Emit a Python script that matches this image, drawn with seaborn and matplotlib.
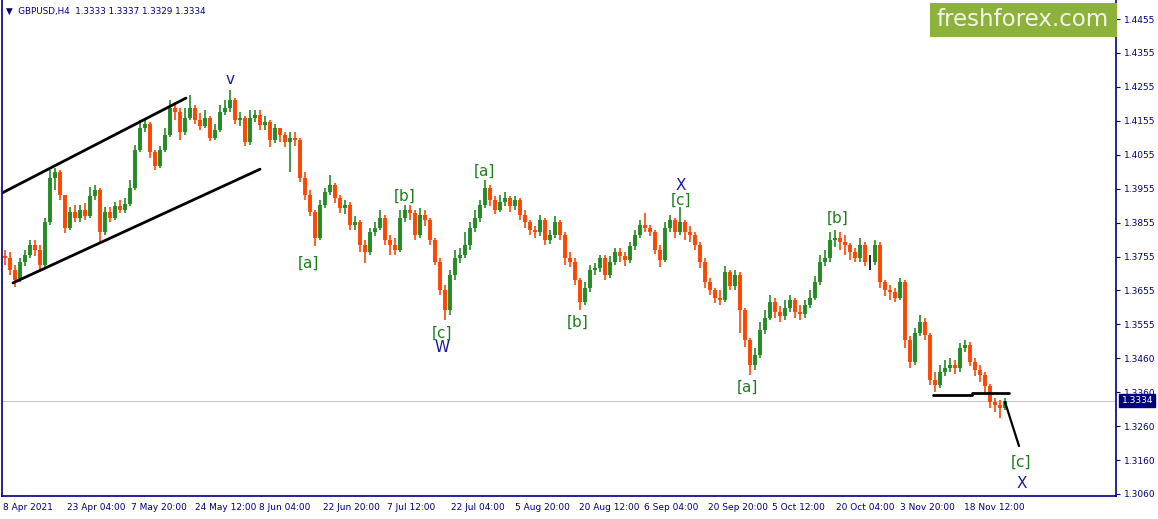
import numpy as np
import matplotlib
matplotlib.use('Agg')
import matplotlib.pyplot as plt
import seaborn as sns

# GBPUSD H4 (one bar per ~5 px of the original)
first_open = 1.3760
closes = [
    1.3753, 1.3718, 1.3688, 1.3741, 1.3762, 1.3791, 1.3777, 1.3733, 1.3859, 1.3988,
    1.4006, 1.3938, 1.3841, 1.3888, 1.3871, 1.3894, 1.3876, 1.3935, 1.3953, 1.3829,
    1.3888, 1.3871, 1.3906, 1.3894, 1.3912, 1.3959, 1.4070, 1.4135, 1.4147, 1.4064,
    1.4023, 1.4070, 1.4114, 1.4194, 1.4182, 1.4123, 1.4164, 1.4194, 1.4158, 1.4141,
    1.4164, 1.4105, 1.4129, 1.4182, 1.4194, 1.4217, 1.4158, 1.4164, 1.4094, 1.4164,
    1.4173, 1.4144, 1.4153, 1.4100, 1.4135, 1.4114, 1.4094, 1.4105, 1.4100, 1.3988,
    1.3938, 1.3888, 1.3812, 1.3909, 1.3947, 1.3967, 1.3929, 1.3900, 1.3909, 1.3850,
    1.3859, 1.3791, 1.3771, 1.3829, 1.3841, 1.3871, 1.3806, 1.3791, 1.3777, 1.3871,
    1.3894, 1.3885, 1.3821, 1.3879, 1.3865, 1.3806, 1.3741, 1.3659, 1.3600, 1.3703,
    1.3753, 1.3762, 1.3791, 1.3841, 1.3871, 1.3909, 1.3959, 1.3923, 1.3894, 1.3918,
    1.3929, 1.3906, 1.3923, 1.3879, 1.3859, 1.3835, 1.3829, 1.3865, 1.3806, 1.3821,
    1.3859, 1.3821, 1.3753, 1.3741, 1.3688, 1.3624, 1.3665, 1.3718, 1.3724, 1.3753,
    1.3703, 1.3741, 1.3771, 1.3759, 1.3747, 1.3788, 1.3821, 1.3850, 1.3841, 1.3829,
    1.3777, 1.3747, 1.3841, 1.3865, 1.3829, 1.3859, 1.3829, 1.3821, 1.3791, 1.3741,
    1.3683, 1.3659, 1.3636, 1.3630, 1.3712, 1.3671, 1.3703, 1.3600, 1.3512, 1.3439,
    1.3468, 1.3542, 1.3577, 1.3624, 1.3594, 1.3583, 1.3606, 1.3630, 1.3594, 1.3589,
    1.3615, 1.3636, 1.3683, 1.3741, 1.3753, 1.3806, 1.3812, 1.3800, 1.3791, 1.3771,
    1.3753, 1.3791, 1.3741, 1.3741, 1.3791, 1.3683, 1.3659, 1.3653, 1.3636, 1.3683,
    1.3512, 1.3448, 1.3533, 1.3565, 1.3527, 1.3395, 1.3380, 1.3418, 1.3430, 1.3439,
    1.3430, 1.3489, 1.3498, 1.3448, 1.3424, 1.3409, 1.3377, 1.3330, 1.3321, 1.3313,
    1.3334,
]
highs = [
    1.3777, 1.3771, 1.3733, 1.3753, 1.3777, 1.3806, 1.3806, 1.3791, 1.3871, 1.4012,
    1.4017, 1.4012, 1.3938, 1.3903, 1.3909, 1.3909, 1.3915, 1.3962, 1.3967, 1.3959,
    1.3903, 1.3903, 1.3918, 1.3923, 1.3929, 1.3982, 1.4085, 1.4158, 1.4164, 1.4153,
    1.4070, 1.4082, 1.4135, 1.4217, 1.4211, 1.4194, 1.4194, 1.4232, 1.4202, 1.4179,
    1.4188, 1.4170, 1.4147, 1.4202, 1.4217, 1.4246, 1.4223, 1.4182, 1.4170, 1.4188,
    1.4188, 1.4188, 1.4170, 1.4158, 1.4147, 1.4135, 1.4123, 1.4123, 1.4123, 1.4105,
    1.4006, 1.3953, 1.3894, 1.3923, 1.3959, 1.3997, 1.3973, 1.3938, 1.3923, 1.3918,
    1.3876, 1.3865, 1.3806, 1.3841, 1.3859, 1.3894, 1.3879, 1.3821, 1.3812, 1.3894,
    1.3909, 1.3909, 1.3894, 1.3900, 1.3894, 1.3871, 1.3812, 1.3753, 1.3674, 1.3718,
    1.3777, 1.3782, 1.3829, 1.3859, 1.3894, 1.3923, 1.3982, 1.3967, 1.3935, 1.3938,
    1.3947, 1.3935, 1.3935, 1.3929, 1.3894, 1.3865, 1.3847, 1.3879, 1.3871, 1.3835,
    1.3876, 1.3865, 1.3829, 1.3771, 1.3753, 1.3694, 1.3683, 1.3733, 1.3738, 1.3762,
    1.3762, 1.3759, 1.3782, 1.3782, 1.3771, 1.3800, 1.3835, 1.3865, 1.3885, 1.3850,
    1.3835, 1.3791, 1.3859, 1.3879, 1.3871, 1.3903, 1.3865, 1.3847, 1.3829, 1.3800,
    1.3753, 1.3694, 1.3665, 1.3659, 1.3730, 1.3718, 1.3718, 1.3712, 1.3606, 1.3518,
    1.3489, 1.3565, 1.3600, 1.3644, 1.3636, 1.3612, 1.3630, 1.3644, 1.3636, 1.3615,
    1.3630, 1.3659, 1.3700, 1.3762, 1.3777, 1.3829, 1.3835, 1.3829, 1.3821, 1.3797,
    1.3782, 1.3812, 1.3800, 1.3762, 1.3806, 1.3800, 1.3688, 1.3674, 1.3665, 1.3694,
    1.3688, 1.3524, 1.3547, 1.3586, 1.3577, 1.3533, 1.3418, 1.3439, 1.3454, 1.3459,
    1.3454, 1.3503, 1.3512, 1.3506, 1.3459, 1.3439, 1.3418, 1.3383, 1.3342, 1.3336,
    1.3342,
]
lows = [
    1.3733, 1.3703, 1.3668, 1.3683, 1.3730, 1.3753, 1.3759, 1.3712, 1.3724, 1.3850,
    1.3953, 1.3923, 1.3826, 1.3835, 1.3859, 1.3859, 1.3865, 1.3871, 1.3923, 1.3800,
    1.3821, 1.3859, 1.3865, 1.3885, 1.3885, 1.3906, 1.3953, 1.4064, 1.4123, 1.4047,
    1.4012, 1.4017, 1.4064, 1.4108, 1.4158, 1.4100, 1.4114, 1.4158, 1.4147, 1.4129,
    1.4135, 1.4097, 1.4100, 1.4123, 1.4173, 1.4182, 1.4147, 1.4141, 1.4082, 1.4085,
    1.4153, 1.4129, 1.4129, 1.4079, 1.4091, 1.4094, 1.4079, 1.4006, 1.4082, 1.3976,
    1.3923, 1.3876, 1.3788, 1.3806, 1.3900, 1.3938, 1.3915, 1.3885, 1.3882, 1.3835,
    1.3835, 1.3771, 1.3738, 1.3762, 1.3818, 1.3835, 1.3791, 1.3762, 1.3762, 1.3771,
    1.3859, 1.3865, 1.3806, 1.3812, 1.3847, 1.3791, 1.3733, 1.3644, 1.3571, 1.3586,
    1.3688, 1.3738, 1.3753, 1.3777, 1.3829, 1.3859, 1.3900, 1.3906, 1.3882, 1.3888,
    1.3906, 1.3888, 1.3894, 1.3865, 1.3841, 1.3821, 1.3812, 1.3818, 1.3791, 1.3794,
    1.3812, 1.3806, 1.3733, 1.3727, 1.3674, 1.3600, 1.3615, 1.3653, 1.3703, 1.3712,
    1.3688, 1.3694, 1.3733, 1.3741, 1.3730, 1.3738, 1.3777, 1.3812, 1.3829, 1.3818,
    1.3765, 1.3727, 1.3741, 1.3829, 1.3812, 1.3821, 1.3806, 1.3800, 1.3777, 1.3724,
    1.3665, 1.3644, 1.3621, 1.3615, 1.3624, 1.3659, 1.3659, 1.3533, 1.3492, 1.3409,
    1.3424, 1.3459, 1.3530, 1.3571, 1.3577, 1.3565, 1.3571, 1.3594, 1.3577, 1.3571,
    1.3577, 1.3606, 1.3630, 1.3674, 1.3730, 1.3741, 1.3785, 1.3777, 1.3762, 1.3747,
    1.3741, 1.3741, 1.3730, 1.3718, 1.3733, 1.3665, 1.3641, 1.3630, 1.3624, 1.3630,
    1.3489, 1.3430, 1.3439, 1.3524, 1.3512, 1.3380, 1.3360, 1.3371, 1.3406, 1.3418,
    1.3412, 1.3418, 1.3477, 1.3436, 1.3406, 1.3389, 1.3360, 1.3313, 1.3301, 1.3283,
    1.3307,
]

y_labels = ['1.4455', '1.4355', '1.4255', '1.4155', '1.4055', '1.3955', '1.3855', '1.3755',
            '1.3655', '1.3555', '1.3460', '1.3360', '1.3260', '1.3160', '1.3060']
x_labels = ['8 Apr 2021', '23 Apr 04:00', '7 May 20:00', '24 May 12:00', '8 Jun 04:00',
            '22 Jun 20:00', '7 Jul 12:00', '22 Jul 04:00', '5 Aug 20:00', '20 Aug 12:00',
            '6 Sep 04:00', '20 Sep 20:00', '5 Oct 12:00', '20 Oct 04:00', '3 Nov 20:00',
            '18 Nov 12:00']

# wave marks (text, bar, price)
wave_text = ['v', '[a]', '[b]', '[c]', 'W', '[a]', '[b]', 'X', '[c]', '[a]', '[b]', '[c]', 'X']
wave_bar = [45.0, 60.6, 80.0, 87.4, 87.4, 95.8, 114.6, 135.2, 135.2, 148.4, 166.6, 203.2, 203.4]
wave_price = [1.4276, 1.3738, 1.3935, 1.3533, 1.3489, 1.4009, 1.3565, 1.3965, 1.3923,
              1.3374, 1.3871, 1.3154, 1.3092]

# hand drawn lines
upper_bar, upper_price = [-0.6, 36.2], [1.3944, 1.4223]
lower_bar, lower_price = [1.6, 51.0], [1.3680, 1.4014]
level1_bar, level1_price = [185.6, 193.4], [1.3351, 1.3351]
level2_bar, level2_price = [193.4, 200.8], [1.3357, 1.3357]
proj_bar, proj_price = [200.0, 202.8], [1.3330, 1.3201]
last_price = 1.3334

sns.set_style('white')
plt.rcParams['font.family'] = ['DejaVu Sans']

navy = '#000080'
bull = '#228b22'
bear = '#ff4500'

fig = plt.figure(figsize=(11.58, 5.19), dpi=100)
W, H = 1158, 519
ax = fig.add_axes([2 / W, 1 - 496 / H, (1116 - 2) / W, 496 / H])

closes = np.array(closes)
opens = np.concatenate([[first_open], closes[:-1]])
bars = np.arange(len(closes))
cols = [bull if c > o else (bear if c < o else 'black') for o, c in zip(opens, closes)]
ax.vlines(bars, lows, highs, colors=cols, linewidth=1.2)
ax.vlines(bars, np.minimum(opens, closes), np.maximum(opens, closes), colors=cols,
          linewidth=2.8)

ax.axhline(last_price, color='#c8c8c8', lw=0.8, zorder=0)

for bx, by in [(upper_bar, upper_price), (lower_bar, lower_price),
               (level1_bar, level1_price), (level2_bar, level2_price)]:
    sns.lineplot(x=bx, y=by, color='black', lw=2.0, ax=ax)
sns.lineplot(x=proj_bar, y=proj_price, color='black', lw=1.6, ax=ax)

for t, bx, by in zip(wave_text, wave_bar, wave_price):
    c = '#1a1a9a' if t in ('v', 'W', 'X') else '#1f7f1f'
    ax.text(bx, by, t, color=c, fontsize=11, ha='center', va='center')

ax.set_xlim(-0.6, 222.2)
ax.set_ylim(1.3054, 1.4511)

ax.yaxis.tick_right()
ax.set_yticks(np.linspace(1.4455, 1.3060, len(y_labels)))
ax.set_yticklabels(y_labels)
ax.set_xticks(-0.4 + 12.81 * np.arange(len(x_labels)))
ax.set_xticklabels(x_labels, ha='left')
ax.tick_params(axis='both', colors=navy, labelcolor=navy, labelsize=6.5,
               direction='out', length=3, width=0.8)
ax.tick_params(axis='y', pad=3)
ax.tick_params(axis='x', pad=2)
for s in ['left', 'right', 'bottom']:
    ax.spines[s].set_color(navy)
    ax.spines[s].set_linewidth(1.2)
ax.spines['top'].set_visible(False)
ax.set_xlabel('')
ax.set_ylabel('')

ax.annotate(f'{last_price:.4f}', xy=(1.0, last_price), xycoords=('axes fraction', 'data'),
            xytext=(4, 0), textcoords='offset points', color='white', fontsize=6.5,
            va='center', ha='left',
            bbox=dict(boxstyle='square,pad=0.25', fc=navy, ec=navy))

# logo
fig.patches.append(plt.Rectangle((930 / W, 1 - 37 / H), 187 / W, 34 / H,
                                 transform=fig.transFigure, fc='#8cb23c', ec='none'))
fig.text(1023 / W, 1 - 20 / H, 'freshforex.com', color='#f4f4e6', fontsize=16.5,
         ha='center', va='center')

fig.text(6 / W, 1 - 11 / H, '\u25bc  GBPUSD,H4  1.3333 1.3337 1.3329 1.3334', color=navy,
         fontsize=6.3, ha='left', va='center')

fig.savefig('out.png', dpi=100)
